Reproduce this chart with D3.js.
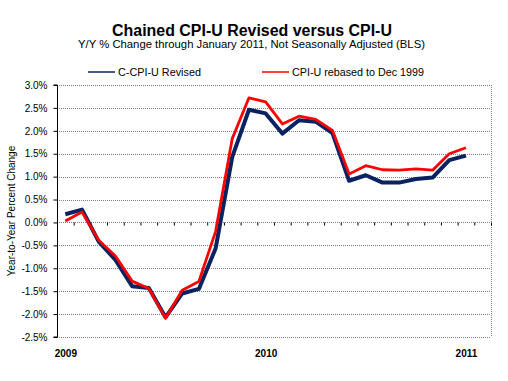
<!DOCTYPE html>
<html><head><meta charset="utf-8">
<script src="https://cdn.jsdelivr.net/npm/d3@7"></script>
<style>
html,body{margin:0;padding:0;background:#fff;}
svg{display:block;font-family:"Liberation Sans",Arial,sans-serif;}
</style></head>
<body>
<svg id="chart" width="508" height="381"></svg>
<script>
// ---- data ----
const categories = ["Jan 2009","Feb 2009","Mar 2009","Apr 2009","May 2009","Jun 2009","Jul 2009","Aug 2009","Sep 2009","Oct 2009","Nov 2009","Dec 2009",
  "Jan 2010","Feb 2010","Mar 2010","Apr 2010","May 2010","Jun 2010","Jul 2010","Aug 2010","Sep 2010","Oct 2010","Nov 2010","Dec 2010",
  "Jan 2011","Feb 2011"];
const chainedCPI = [0.18,0.28,-0.42,-0.82,-1.39,-1.43,-2.07,-1.55,-1.45,-0.57,1.43,2.46,
  2.38,1.94,2.23,2.20,1.95,0.91,1.03,0.87,0.87,0.95,0.98,1.36,1.46];
const cpiU = [0.03,0.23,-0.39,-0.73,-1.28,-1.44,-2.09,-1.48,-1.29,-0.20,1.83,2.72,
  2.63,2.15,2.32,2.25,2.01,1.06,1.24,1.15,1.14,1.17,1.14,1.50,1.63];
const yTicks = [3.0,2.5,2.0,1.5,1.0,0.5,0.0,-0.5,-1.0,-1.5,-2.0,-2.5];
const yearLabels = ["2009","2010","2011"];
const yearIndex = [0,12,24];
const seriesNames = ["C-CPI-U Revised","CPI-U rebased to Dec 1999"];
const seriesColors = ["#0B2260","#FF0000"];

// ---- layout ----
const L = 57, R = 491, T = 85, B = 337;
const svg = d3.select("#chart");
const x = d3.scaleLinear().domain([0, categories.length]).range([L, R]);
const y = d3.scaleLinear().domain([-2.5, 3.0]).range([B, T]);

function fitText(sel, target){
  const fs = parseFloat(sel.attr("font-size"));
  const len = sel.node().getComputedTextLength();
  sel.attr("font-size", fs * target / len);
}
const t1 = svg.append("text").attr("x", 252).attr("y", 35.5).attr("text-anchor","middle")
  .attr("font-size",15).attr("font-weight","bold").text("Chained CPI-U Revised versus CPI-U");
fitText(t1, 280);
const t2 = svg.append("text").attr("x", 251.5).attr("y", 48).attr("text-anchor","middle")
  .attr("font-size",10).text("Y/Y % Change through January 2011, Not Seasonally Adjusted (BLS)");
fitText(t2, 347);

// gridlines (dotted)
svg.append("g").selectAll("line").data(yTicks).join("line")
  .attr("x1", L).attr("x2", R)
  .attr("y1", d => Math.round(y(d)) + 0.5).attr("y2", d => Math.round(y(d)) + 0.5)
  .attr("stroke", "#7f7f7f").attr("stroke-dasharray","1,1");
svg.append("line").attr("x1", R+0.5).attr("x2", R+0.5).attr("y1", T).attr("y2", B)
  .attr("stroke","#7f7f7f").attr("stroke-dasharray","1,1");

// y axis
const yAxis = d3.axisLeft(y).tickValues(yTicks).tickSize(4).tickPadding(6)
  .tickFormat(d => d.toFixed(1) + "%");
const gy = svg.append("g").attr("transform", `translate(${L+0.5},0)`).call(yAxis);
gy.select(".domain").attr("stroke","#000").attr("d", `M-4,${T}H0V${B}H-4`);
gy.selectAll(".tick line").attr("stroke","#000");
gy.selectAll(".tick text").attr("font-size",10).attr("font-family","Liberation Sans, Arial, sans-serif").attr("fill","#000");

// category axis at zero with month ticks
const xAxis = d3.axisBottom(x).tickValues(d3.range(0, categories.length + 1)).tickSize(3).tickFormat("");
const gx = svg.append("g").attr("transform", `translate(0,${Math.round(y(0))+0.5})`).call(xAxis);
gx.select(".domain").remove();
gx.selectAll(".tick line").attr("stroke","#000");

// year labels at bottom
const xMid = i => x(i + 0.5);
const yearAxis = d3.axisBottom(x)
  .tickValues(yearIndex.map(i => i + 0.5)).tickSize(0).tickPadding(0)
  .tickFormat((d, i) => yearLabels[i]);
const gyr = svg.append("g").attr("transform", `translate(0,${B+13})`).call(yearAxis);
gyr.select(".domain").remove();
gyr.selectAll("text").attr("font-size",10).attr("font-weight","bold").attr("font-family","Liberation Sans, Arial, sans-serif").attr("fill","#000");

// y title
svg.append("text").attr("transform", `translate(14.5,${(T+B)/2}) rotate(-90)`)
  .attr("text-anchor","middle").attr("font-size",10).text("Year-to-Year Percent Change");

// lines
const line = d3.line().x((d, i) => xMid(i)).y(d => y(d));
svg.append("path").datum(chainedCPI).attr("d", line).attr("fill","none")
  .attr("stroke", seriesColors[0]).attr("stroke-width",4).attr("stroke-linejoin","round");
svg.append("path").datum(cpiU).attr("d", line).attr("fill","none")
  .attr("stroke", seriesColors[1]).attr("stroke-width",2.8).attr("stroke-linejoin","round");

// legend
const legX = [88, 262];
const legTextW = [83, 132];
const leg = svg.append("g").selectAll("g").data(seriesNames).join("g")
  .attr("transform", (d, i) => `translate(${legX[i]},72)`);
leg.append("line").attr("x1",0).attr("x2",27).attr("y1",0).attr("y2",0)
  .attr("stroke",(d,i)=>seriesColors[i]).attr("stroke-width",1.5);
leg.append("text").attr("x",30).attr("y",4).attr("font-size",11).text(d => d)
  .each(function(d, i){ fitText(d3.select(this), legTextW[i]); });
</script>
</body></html>
